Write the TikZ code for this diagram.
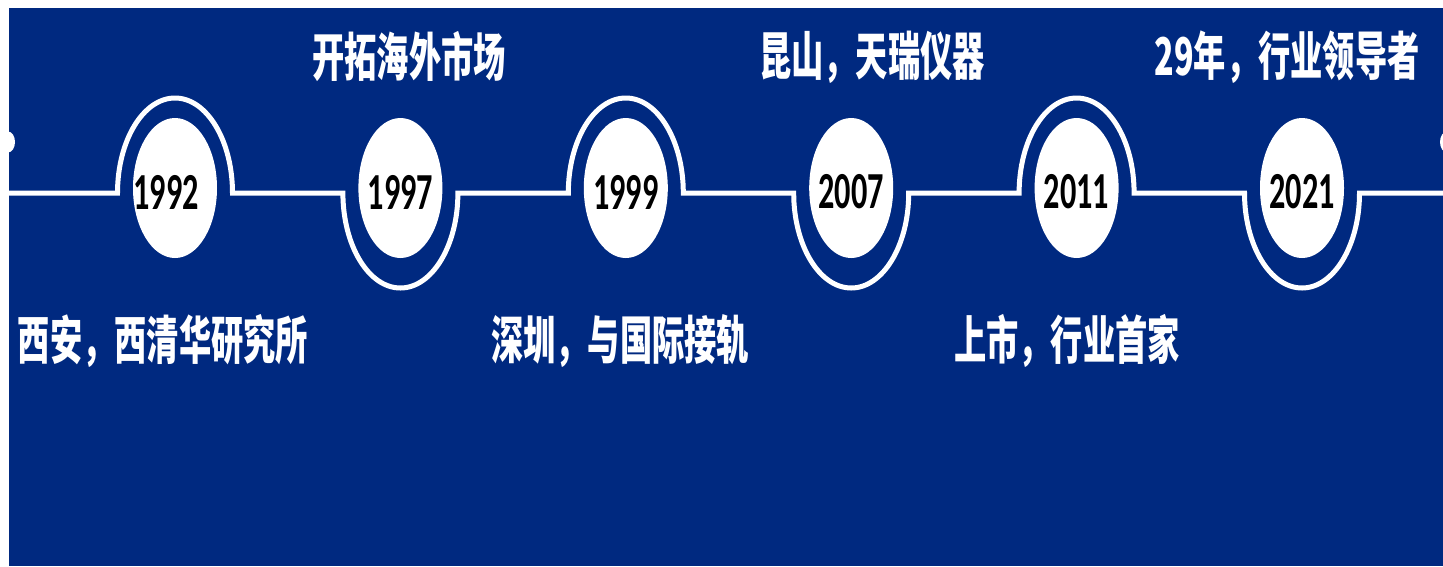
\documentclass[tikz,border=0pt]{standalone}
\usepackage{fontspec}
\usetikzlibrary{shapes.geometric}
\newfontfamily\cjkfont[FakeStretch=0.62]{Noto Sans CJK SC}
\newfontfamily\yearfont[FakeStretch=0.62]{Carlito}
\definecolor{bgblue}{RGB}{0,41,128}
\begin{document}
\begin{tikzpicture}[x=1pt,y=-1pt,
  timeline/.style={draw=white,line width=5pt},
  yearball/.style={ellipse,fill=white,draw=none,inner sep=0pt,minimum width=84pt,minimum height=140pt},
  yeartext/.style={text=black,font=\yearfont\bfseries\fontsize{52}{52}\selectfont,inner sep=0pt},
  event/.style={text=white,font=\cjkfont\bfseries\fontsize{52}{52}\selectfont,inner sep=0pt}]
\useasboundingbox (0,0) rectangle (1443,566);
\fill[white] (0,0) rectangle (1443,566);
\fill[bgblue] (9,8) rectangle (1443,566);
% edge dots
\fill[white] (8,142) ellipse [x radius=7,y radius=10.5];
\fill[white] (1447,142) ellipse [x radius=7,y radius=10.5];
% timeline path
\coordinate (L) at (9,193);
\coordinate (R) at (1443,193);
\draw[timeline] (L) -- (117.5,193)
  arc[start angle=180,end angle=360,x radius=57.5,y radius=95] -- (342.9,193)
  arc[start angle=180,end angle=0,x radius=57.5,y radius=95] -- (568.3,193)
  arc[start angle=180,end angle=360,x radius=57.5,y radius=95] -- (793.7,193)
  arc[start angle=180,end angle=0,x radius=57.5,y radius=95] -- (1019.1,193)
  arc[start angle=180,end angle=360,x radius=57.5,y radius=95] -- (1244.5,193)
  arc[start angle=180,end angle=0,x radius=57.5,y radius=95] -- (R);
% year balls
\node[yearball] (e1) at (175,188) {};
\node[yearball] (e2) at (400.4,188) {};
\node[yearball] (e3) at (625.8,188) {};
\node[yearball] (e4) at (851.2,188) {};
\node[yearball] (e5) at (1076.6,188) {};
\node[yearball] (e6) at (1302,188) {};
\node[yeartext] (y1) at (166,192) {1992};
\node[yeartext] (y2) at (400.4,192) {1997};
\node[yeartext] (y3) at (625.8,192) {1999};
\node[yeartext] (y4) at (851.2,192) {2007};
\node[yeartext] (y5) at (1076.6,192) {2011};
\node[yeartext] (y6) at (1302,192) {2021};
% events
\node[event] (t2) at (409,57) {开拓海外市场};
\node[event] (t4) at (872,57) {昆山，天瑞仪器};
\node[event] (t6) at (1287,57) {29年，行业领导者};
\node[event] (t1) at (163,341) {西安，西清华研究所};
\node[event] (t3) at (620,341) {深圳，与国际接轨};
\node[event] (t5) at (1067,341) {上市，行业首家};
\end{tikzpicture}
\end{document}
